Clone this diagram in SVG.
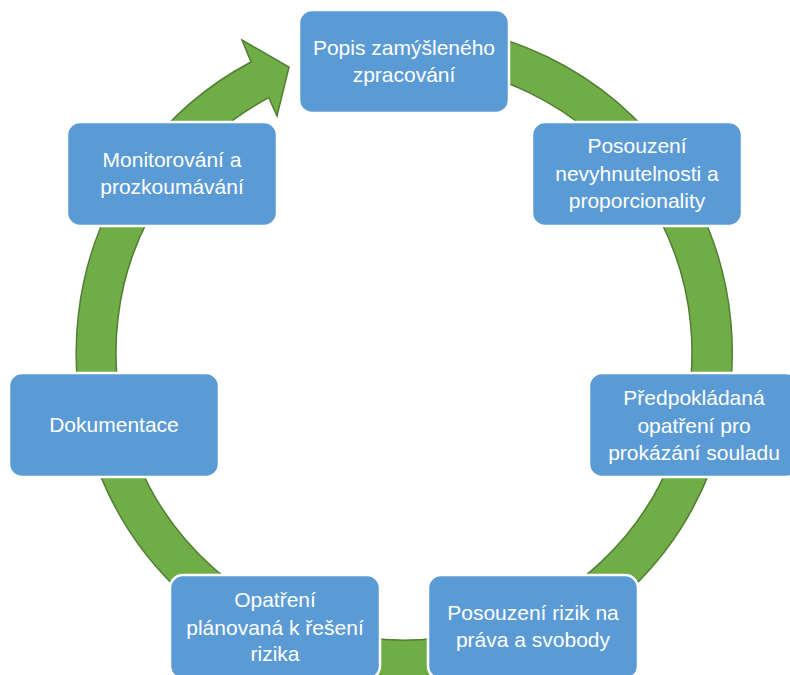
<svg xmlns="http://www.w3.org/2000/svg" width="790" height="675" viewBox="0 0 790 675">
<style>
.box{fill:#5B9BD5;stroke:#FFFFFF;stroke-width:2.5}
.lbl{font-family:"Liberation Sans",Arial,sans-serif;font-size:21px;fill:#FFFFFF;text-anchor:middle}
.ring{fill:#70AD47;stroke:#507E32;stroke-width:1.5;stroke-linejoin:miter}
</style>
<rect width="790" height="675" fill="#FFFFFF"/>
<g id="connectors">
<path class="ring" d="M404,24 A328,328 0 1 1 251,62 L242,40 L289,67 L277,116 L268.8,97.7 A288,288 0 1 0 404,64 Z"/>
</g>
<g id="n1">
<rect class="box" x="299" y="10" width="210" height="103" rx="13"/>
<text class="lbl" x="404" y="55">Popis zamýšleného</text>
<text class="lbl" x="404" y="82">zpracování</text>
</g>
<g id="n2">
<rect class="box" x="532" y="122" width="210" height="104" rx="13"/>
<text class="lbl" x="637" y="153">Posouzení</text>
<text class="lbl" x="637" y="181">nevyhnutelnosti a</text>
<text class="lbl" x="637" y="208">proporcionality</text>
</g>
<g id="n3">
<rect class="box" x="589" y="373" width="210" height="104" rx="13"/>
<text class="lbl" x="694" y="405">Předpokládaná</text>
<text class="lbl" x="694" y="433">opatření pro</text>
<text class="lbl" x="694" y="460">prokázání souladu</text>
</g>
<g id="n4">
<rect class="box" x="428" y="575" width="210" height="104" rx="13"/>
<text class="lbl" x="533" y="620">Posouzení rizik na</text>
<text class="lbl" x="533" y="647">práva a svobody</text>
</g>
<g id="n5">
<rect class="box" x="170" y="575" width="210" height="104" rx="13"/>
<text class="lbl" x="275" y="607">Opatření</text>
<text class="lbl" x="275" y="635">plánovaná k řešení</text>
<text class="lbl" x="275" y="661">rizika</text>
</g>
<g id="n6">
<rect class="box" x="9" y="373" width="210" height="104" rx="13"/>
<text class="lbl" x="114" y="432">Dokumentace</text>
</g>
<g id="n7">
<rect class="box" x="67" y="122" width="210" height="104" rx="13"/>
<text class="lbl" x="172" y="167">Monitorování a</text>
<text class="lbl" x="172" y="194">prozkoumávání</text>
</g>
</svg>
